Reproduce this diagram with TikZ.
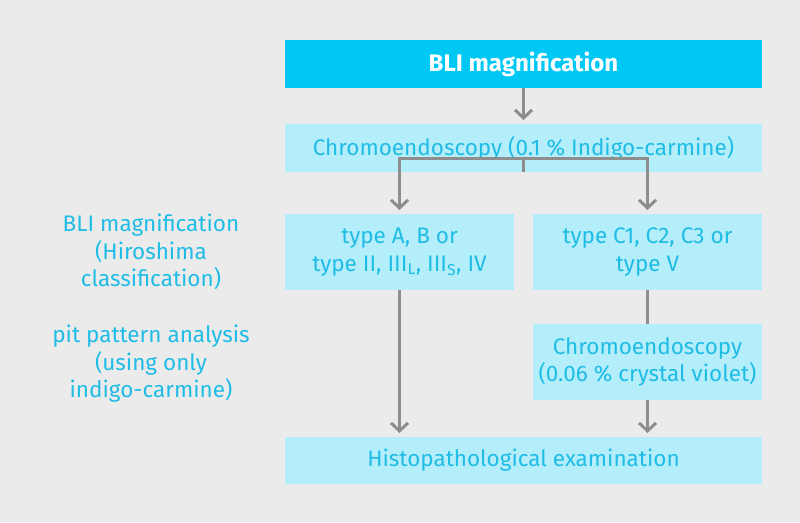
\documentclass[tikz,border=0pt]{standalone}
\usepackage{fontspec}
\setmainfont{Fira Sans}
\usepackage{tikz}
\usetikzlibrary{arrows.meta}
\usetikzlibrary{positioning}
\definecolor{bgcol}{HTML}{EBEBEC}
\definecolor{cyanbox}{HTML}{00C8F5}
\definecolor{lightbox}{HTML}{B4EEFB}
\definecolor{cyantext}{HTML}{1FBCE6}
\definecolor{linecol}{HTML}{8E8E8E}
\tikzset{x=1pt, y=-1pt, >={Straight Barb[length=8pt,width=17pt]}, node distance=1cm, font=\fontsize{22.5}{27.5}\selectfont}
\tikzstyle{head} = [fill=cyanbox, text=white, font=\fontsize{24}{27.5}\selectfont\bfseries, minimum width=477pt, minimum height=48pt, inner sep=0pt, outer sep=0pt]
\tikzstyle{block} = [fill=lightbox, text=cyantext, minimum width=477pt, minimum height=48pt, inner sep=0pt, outer sep=0pt, align=center]
\tikzstyle{half} = [block, minimum width=229pt, minimum height=76pt]
\tikzstyle{note} = [text=cyantext, align=center]
\tikzstyle{conn} = [draw=linecol, line width=3pt]
\tikzstyle{flow} = [conn, ->, shorten >=4pt]

\begin{document}
\begin{tikzpicture}
		\fill [bgcol] (0,0) rectangle (800,522);

		\node [head] (top) at (523.5,64) {BLI magnification};
		\node [block, below=36pt of top] (chromo) {Chromoendoscopy (0.1 \% Indigo-carmine)};
		\node [half, below right=42pt and 0pt of chromo.south west] (typea) {type A, B or\\type II, III\textsubscript{L}, III\textsubscript{S}, IV};
		\node [half, below left=42pt and 0pt of chromo.south east] (typec) {type C1, C2, C3 or\\type V};
		\node [half, below=34pt of typec] (crystal) {Chromoendoscopy\\(0.06 \% crystal violet)};
		\coordinate (hl) at (typea.west |- crystal.south);
		\node [block, minimum height=47pt, below right=37pt and 0pt of hl] (histo) {Histopathological examination};

		\node [note] (hiro) at (151,252) {BLI magnification\\(Hiroshima\\classification)};
		\node [note] (pit) at (151,364) {pit pattern analysis\\(using only\\indigo-carmine)};

		\draw [flow] (top) -- (chromo);
		\draw [conn] (chromo) -- ++(0,10) coordinate (split);
		\draw [flow] (split) -| (typea);
		\draw [flow] (split) -| (typec);
		\draw [flow] (typea.south) -- (typea.south |- histo.north);
		\draw [conn] (typec) -- (crystal);
		\draw [flow] (crystal.south) -- (crystal.south |- histo.north);
	\end{tikzpicture}
\end{document}
